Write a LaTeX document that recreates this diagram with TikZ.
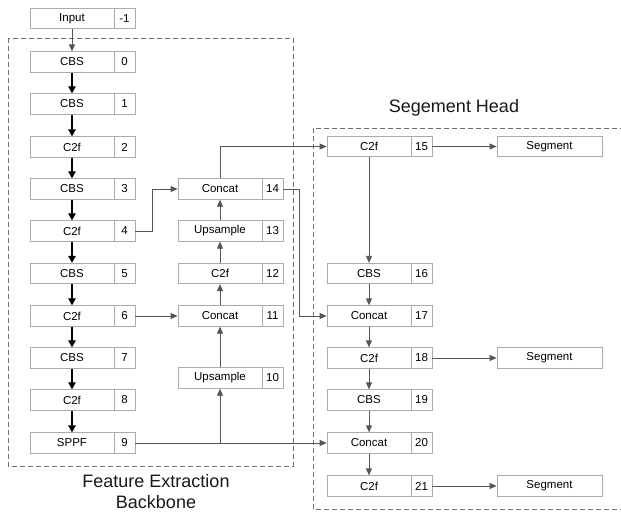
\documentclass[tikz,border=0pt]{standalone}
\usepackage{fontspec}
\setmainfont{Liberation Sans}
\usetikzlibrary{arrows.meta}
\definecolor{boxline}{HTML}{ABABAB}
\definecolor{arrowgray}{HTML}{555555}
\definecolor{dashgray}{HTML}{6E6E6E}
\tikzset{
  mainbox/.style={draw=boxline, line width=0.8pt, fill=white, minimum width=84pt, minimum height=20.5pt, inner sep=0pt, font=\fontsize{11.5}{13}\selectfont},
  numbox/.style={draw=boxline, line width=0.8pt, fill=white, minimum width=21pt, minimum height=20.5pt, inner sep=0pt, font=\fontsize{11.5}{13}\selectfont},
  segbox/.style={draw=boxline, line width=0.8pt, fill=white, minimum width=105pt, minimum height=20.5pt, inner sep=0pt, font=\fontsize{11.5}{13}\selectfont},
  blackarrow/.style={draw=black, line width=1.1pt, -{Triangle[length=7pt,width=7.5pt]}},
  grayarrow/.style={draw=arrowgray, line width=0.8pt, -{Triangle[length=7pt,width=6pt]}},
  dashbox/.style={draw=dashgray, line width=0.8pt, dash pattern=on 5pt off 3pt},
  title/.style={font=\fontsize{18}{21}\selectfont, align=center, text=black!90, inner sep=0pt}
}
\begin{document}
\begin{tikzpicture}[x=1pt,y=-1pt]
\useasboundingbox (0,0) rectangle (621,514);
% dashed groups
\draw[dashbox] (8,38) rectangle (293,466);
\draw[dashbox] (625,128) -- (313,128) -- (313,509) -- (625,509);
\node[title] (tback) at (156,492) {Feature Extraction\\Backbone};
\node[title] (thead) at (454,108) {Segement Head};
% column 1
\node[mainbox] (bin) at (72,18.5) {Input}; \node[numbox] (nin) at (124.5,18.5) {-1};
\node[mainbox] (b0) at (72,62) {CBS};  \node[numbox] (n0) at (124.5,62) {0};
\node[mainbox] (b1) at (72,104) {CBS}; \node[numbox] (n1) at (124.5,104) {1};
\node[mainbox] (b2) at (72,147) {C2f}; \node[numbox] (n2) at (124.5,147) {2};
\node[mainbox] (b3) at (72,189) {CBS}; \node[numbox] (n3) at (124.5,189) {3};
\node[mainbox] (b4) at (72,231) {C2f}; \node[numbox] (n4) at (124.5,231) {4};
\node[mainbox] (b5) at (72,273.5) {CBS}; \node[numbox] (n5) at (124.5,273.5) {5};
\node[mainbox] (b6) at (72,316) {C2f}; \node[numbox] (n6) at (124.5,316) {6};
\node[mainbox] (b7) at (72,358) {CBS}; \node[numbox] (n7) at (124.5,358) {7};
\node[mainbox] (b8) at (72,400) {C2f}; \node[numbox] (n8) at (124.5,400) {8};
\node[mainbox] (b9) at (72,443) {SPPF}; \node[numbox] (n9) at (124.5,443) {9};
% column 2
\node[mainbox] (b14) at (220,189) {Concat}; \node[numbox] (n14) at (272.5,189) {14};
\node[mainbox] (b13) at (220,231) {Upsample}; \node[numbox] (n13) at (272.5,231) {13};
\node[mainbox] (b12) at (220,273.5) {C2f}; \node[numbox] (n12) at (272.5,273.5) {12};
\node[mainbox] (b11) at (220,316) {Concat}; \node[numbox] (n11) at (272.5,316) {11};
\node[mainbox] (b10) at (220,378) {Upsample}; \node[numbox] (n10) at (272.5,378) {10};
% column 3
\node[mainbox] (b15) at (369,146.5) {C2f}; \node[numbox] (n15) at (421.5,146.5) {15};
\node[mainbox] (b16) at (369,273.5) {CBS}; \node[numbox] (n16) at (421.5,273.5) {16};
\node[mainbox] (b17) at (369,316) {Concat}; \node[numbox] (n17) at (421.5,316) {17};
\node[mainbox] (b18) at (369,358) {C2f}; \node[numbox] (n18) at (421.5,358) {18};
\node[mainbox] (b19) at (369,400) {CBS}; \node[numbox] (n19) at (421.5,400) {19};
\node[mainbox] (b20) at (369,443) {Concat}; \node[numbox] (n20) at (421.5,443) {20};
\node[mainbox] (b21) at (369,486) {C2f}; \node[numbox] (n21) at (421.5,486) {21};
% segment outputs
\node[segbox] (s15) at (549.5,146.5) {Segment};
\node[segbox] (s18) at (549.5,358) {Segment};
\node[segbox] (s21) at (549.5,486) {Segment};
% backbone arrows
\draw[grayarrow] (bin) -- (b0);
\draw[blackarrow] (b0) -- (b1);
\draw[blackarrow] (b1) -- (b2);
\draw[blackarrow] (b2) -- (b3);
\draw[blackarrow] (b3) -- (b4);
\draw[blackarrow] (b4) -- (b5);
\draw[blackarrow] (b5) -- (b6);
\draw[blackarrow] (b6) -- (b7);
\draw[blackarrow] (b7) -- (b8);
\draw[blackarrow] (b8) -- (b9);
% middle column
\draw[grayarrow] (n4.east) -- ++(17,0) |- (b14.west);
\draw[grayarrow] (n6.east) -- (b11.west);
\coordinate (j9) at (b10.south |- n9.east);
\draw[grayarrow] (n9.east) -- (b20.west);
\draw[grayarrow] (j9) -- (b10.south);
\draw[grayarrow] (b10) -- (b11);
\draw[grayarrow] (b11) -- (b12);
\draw[grayarrow] (b12) -- (b13);
\draw[grayarrow] (b13) -- (b14);
\draw[grayarrow] (b14.north) |- (b15.west);
\draw[grayarrow] (n14.east) -- ++(16,0) |- (b17.west);
% head
\draw[grayarrow] (b15) -- (b16);
\draw[grayarrow] (b16) -- (b17);
\draw[grayarrow] (b17) -- (b18);
\draw[grayarrow] (b18) -- (b19);
\draw[grayarrow] (b19) -- (b20);
\draw[grayarrow] (b20) -- (b21);
\draw[grayarrow] (n15) -- (s15);
\draw[grayarrow] (n18) -- (s18);
\draw[grayarrow] (n21) -- (s21);
\end{tikzpicture}
\end{document}
